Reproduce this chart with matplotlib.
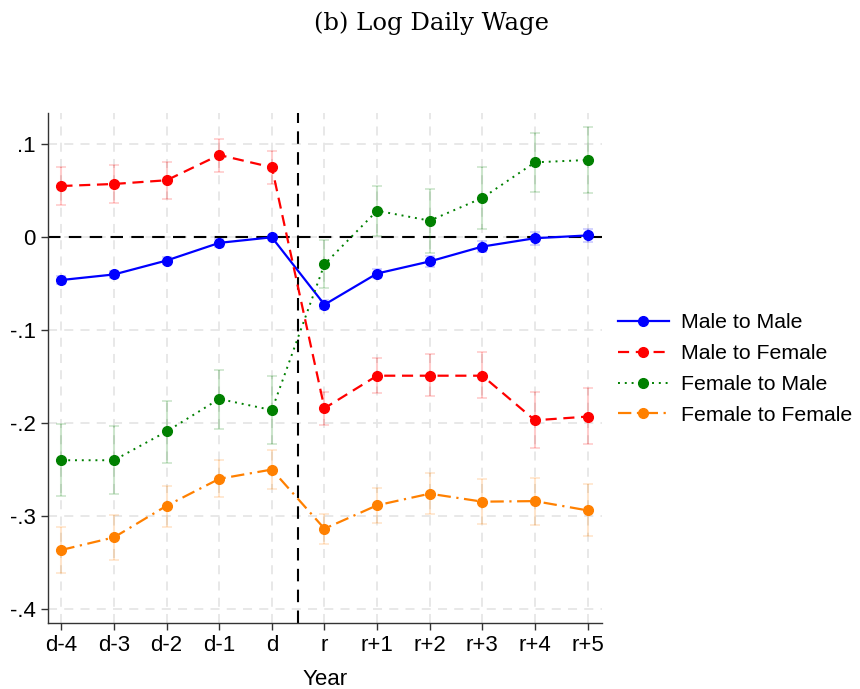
import matplotlib
matplotlib.use("Agg")
import matplotlib.pyplot as plt
import numpy as np

periods = ["d-4", "d-3", "d-2", "d-1", "d", "r", "r+1", "r+2", "r+3", "r+4", "r+5"]

mm = [-0.046, -0.040, -0.025, -0.006, 0.000, -0.0725, -0.039, -0.026, -0.010, -0.001, 0.002]
mm_lo = [-0.050, -0.044, -0.029, -0.010, 0.000, -0.077, -0.044, -0.032, -0.016, -0.008, -0.005]
mm_hi = [-0.042, -0.036, -0.021, -0.002, 0.000, -0.068, -0.034, -0.020, -0.004, 0.006, 0.009]

mf = [0.0552, 0.0574, 0.0614, 0.0886, 0.0753, -0.184, -0.149, -0.149, -0.149, -0.197, -0.193]
mf_lo = [0.0351, 0.0373, 0.0416, 0.0706, 0.0577, -0.2017, -0.168, -0.171, -0.173, -0.227, -0.2225]
mf_hi = [0.0757, 0.0775, 0.0810, 0.1060, 0.0932, -0.1665, -0.130, -0.126, -0.124, -0.167, -0.162]

fm = [-0.240, -0.240, -0.209, -0.174, -0.186, -0.029, 0.0286, 0.0179, 0.0423, 0.0807, 0.0832]
fm_lo = [-0.2785, -0.276, -0.2426, -0.206, -0.222, -0.055, 0.0014, -0.0172, 0.0086, 0.0488, 0.048]
fm_hi = [-0.2006, -0.203, -0.176, -0.143, -0.149, -0.003, 0.0556, 0.052, 0.076, 0.1126, 0.119]

ff = [-0.3366, -0.323, -0.289, -0.260, -0.250, -0.3137, -0.2885, -0.276, -0.2846, -0.284, -0.294]
ff_lo = [-0.361, -0.347, -0.3115, -0.280, -0.2706, -0.330, -0.308, -0.298, -0.3086, -0.3097, -0.3215]
ff_hi = [-0.3115, -0.2986, -0.268, -0.240, -0.229, -0.298, -0.2695, -0.2537, -0.2605, -0.2588, -0.266]

series_names = ["Male to Male", "Male to Female", "Female to Male", "Female to Female"]
ytick_vals = [0.1, 0, -0.1, -0.2, -0.3, -0.4]
ytick_labels = [".1", "0", "-.1", "-.2", "-.3", "-.4"]

plt.rcParams['font.family'] = ['Liberation Sans', 'DejaVu Sans']

fig = plt.figure(figsize=(8.6, 6.89), dpi=100)
ax = fig.add_axes([0.0555, 0.0954, 0.6442, 0.7402])

x = np.arange(len(periods))

styles = [
    (mm, mm_lo, mm_hi, "#0000FF", "-", 1.6),
    (mf, mf_lo, mf_hi, "#FF0000", (0, (5, 3)), 1.6),
    (fm, fm_lo, fm_hi, "#008000", (0, (1, 2.5)), 1.4),
    (ff, ff_lo, ff_hi, "#FF8000", (0, (6, 2.5, 1, 2.5)), 1.6),
]

# grid
for xi in x:
    ax.axvline(xi, color="#e6e6e6", lw=1.3, ls=(0, (5, 4)), zorder=0)
for yv in ytick_vals:
    ax.axhline(yv, color="#e6e6e6", lw=1.3, ls=(0, (5, 4)), zorder=0)

ax.axhline(0, color="black", lw=1.5, ls=(0, (6, 4)), zorder=1)
ax.axvline(4.5, color="black", lw=1.5, ls=(0, (6, 4)), zorder=1)

handles = []
for (vals, lo, hi, col, ls, lw), name in zip(styles, series_names):
    vals = np.array(vals); lo = np.array(lo); hi = np.array(hi)
    ax.errorbar(x, vals, yerr=[vals - lo, hi - vals], fmt="none", ecolor=col,
                alpha=0.2, elinewidth=1.5, capsize=3.3, capthick=1.2, zorder=2)
    h, = ax.plot(x, vals, color=col, ls=ls, lw=lw, marker="o", markersize=7,
                 zorder=3, label=name)
    handles.append(h)

ax.set_xlim(-0.26, 10.27)
ax.set_ylim(-0.4155, 0.1335)
ax.set_xticks(x)
ax.set_xticklabels(periods, fontsize=16)
ax.set_yticks(ytick_vals)
ax.set_yticklabels(ytick_labels, fontsize=16)
ax.tick_params(axis="both", direction="out", length=5, width=1, colors="#333333", labelcolor="black")
ax.set_xlabel("Year", fontsize=16, labelpad=9)

for s in ["top", "right"]:
    ax.spines[s].set_visible(False)
for s in ["left", "bottom"]:
    ax.spines[s].set_color("#333333")
    ax.spines[s].set_linewidth(1.0)

fig.legend(handles=handles, loc="center left", bbox_to_anchor=(0.6958, 0.4644),
           frameon=False, fontsize=15.3, handlelength=2.4, labelspacing=0.56,
           handletextpad=0.6)

fig.text(0.502, 0.966, "(b) Log Daily Wage", ha="center", va="center",
         fontsize=17.5, family=["DejaVu Serif"])

fig.savefig("out.png", dpi=100)
